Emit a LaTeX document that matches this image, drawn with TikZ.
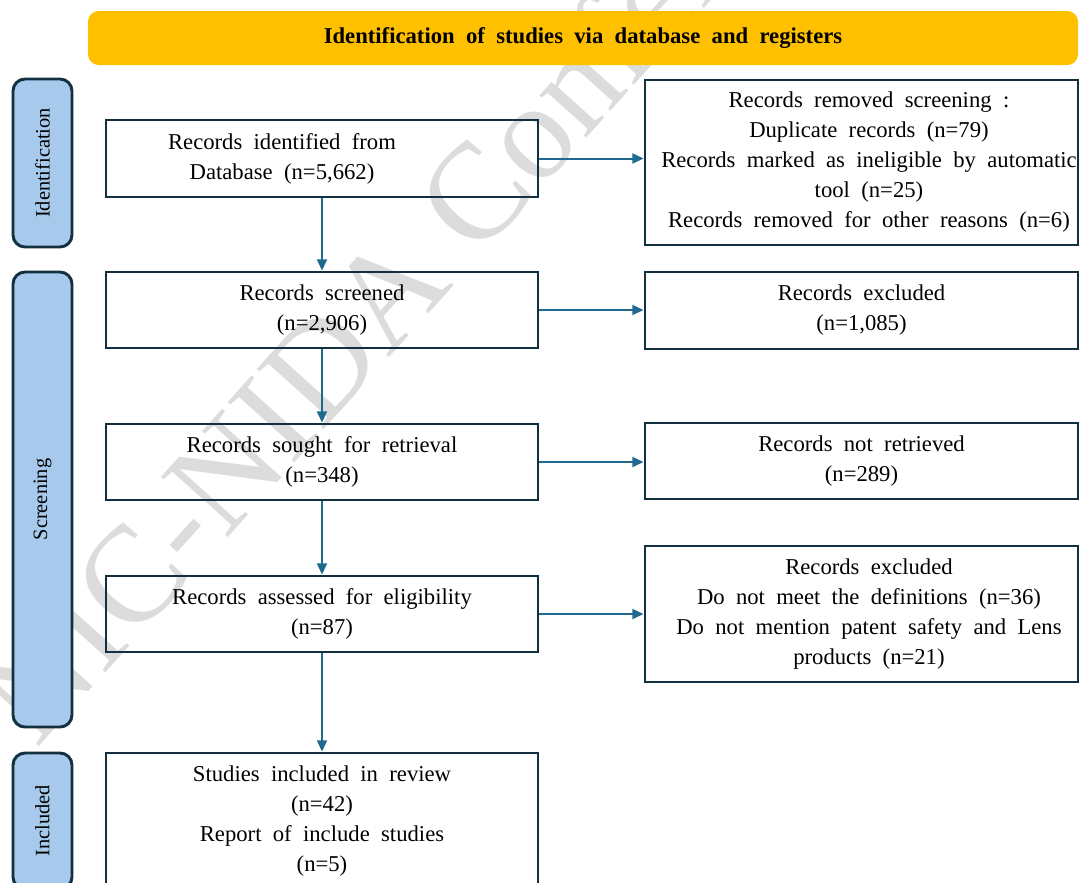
\documentclass[tikz,border=0pt]{standalone}
\usepackage{fontspec}
\setmainfont{Liberation Serif}
\usetikzlibrary{arrows.meta,calc}
\definecolor{titlefill}{HTML}{FFC000}
\definecolor{phasefill}{HTML}{A7CAEC}
\definecolor{boxline}{HTML}{12303F}
\definecolor{arrowblue}{HTML}{1F6A8E}
\definecolor{wmark}{HTML}{DCDCDC}
\newcommand\flowfont{\fontsize{17}{22.5}\selectfont\spaceskip=0.5em\relax}
\newcommand\phasefont{\fontsize{15.3}{18}\selectfont}
\begin{document}
\begin{tikzpicture}[x=0.75pt,y=-0.75pt,
  flowbox/.style={draw=boxline, line width=2.1pt, rectangle, inner sep=0pt},
  leftbox/.style={flowbox, minimum width=324pt, minimum height=57pt},
  rightbox/.style={flowbox, minimum width=324.75pt, minimum height=57pt},
  boxtext/.style={font=\flowfont, align=center, inner sep=0pt},
  phase/.style={draw=boxline, fill=phasefill, line width=2.2pt, rounded corners=9pt,
    inner sep=0pt, minimum height=44.25pt, rotate=90, font=\phasefont},
  flowarrow/.style={draw=arrowblue, line width=1.5pt, -{Triangle[length=8.5pt,width=7.5pt]}},
]
% page and background
\useasboundingbox (0,0) rectangle (1080,882);
\fill[white] (0,0) rectangle (1080,882);

% watermark
\begin{scope}
  \clip (0,0) rectangle (1080,882);
  \node[anchor=base west, rotate=48, font=\fontsize{103}{103}\selectfont,
        text=wmark, inner sep=0pt] (wm) at (36,750) {NIC-NIDA Conference};
\end{scope}

% header bar
\node[fill=titlefill, rounded corners=8pt, minimum width=742.5pt, minimum height=40.5pt,
      inner sep=0pt, font=\flowfont\bfseries] (title) at (583,38)
      {\raisebox{-1.5pt}{Identification of studies via database and registers}};

% phase labels
\node[phase, minimum width=126pt] (phId) at (42.5,163) {Identification};
\node[phase, minimum width=341.25pt] (phSc) at (42.5,499.5) {Screening};
\node[phase, minimum width=102pt] (phIn) at (42.5,821) {Included};

% main column
\node[leftbox, minimum height=57.75pt] (ident) at (322,158.5) {};
\node[boxtext] (identtxt) at ([xshift=-30pt]ident.center) {Records identified from\\Database (n=5,662)};
\node[leftbox] (screened) at (322,310) {};
\node[boxtext] (screenedtxt) at (screened.center) {Records screened\\(n=2,906)};
\node[leftbox] (sought) at (322,462) {};
\node[boxtext] (soughttxt) at (sought.center) {Records sought for retrieval\\(n=348)};
\node[leftbox] (assessed) at (322,614) {};
\node[boxtext] (assessedtxt) at (assessed.center) {Records assessed for eligibility\\(n=87)};
\node[leftbox, minimum height=102pt] (included) at (322,821) {};
\node[boxtext] (includedtxt) at (included.center) {Studies included in review\\(n=42)\\Report of include studies\\(n=5)};

% side column
\node[rightbox, minimum height=123.75pt] (removed) at (861.5,162.5) {};
\node[boxtext] (removedtxt) at ([xshift=5.6pt]removed.center) {Records removed screening :\\Duplicate records (n=79)\\Records marked as ineligible by automatic\\tool (n=25)\\Records removed for other reasons (n=6)};
\node[rightbox, minimum height=57.75pt] (excl1) at (861.5,310.5) {};
\node[boxtext] (excl1txt) at (excl1.center) {Records excluded\\(n=1,085)};
\node[rightbox] (notret) at (861.5,461) {};
\node[boxtext] (notrettxt) at (notret.center) {Records not retrieved\\(n=289)};
\node[rightbox, minimum height=102pt] (excl2) at (861.5,614) {};
\node[boxtext] (excl2txt) at ([xshift=5.6pt]excl2.center) {Records excluded\\Do not meet the definitions (n=36)\\Do not mention patent safety and Lens\\products (n=21)};

% connectors
\draw[flowarrow] (ident.south) -- (screened.north);
\draw[flowarrow] (screened.south) -- (sought.north);
\draw[flowarrow] (sought.south) -- (assessed.north);
\draw[flowarrow] (assessed.south) -- (included.north);
\draw[flowarrow] (ident.east) -- (ident.east -| removed.west);
\draw[flowarrow] (screened.east) -- (screened.east -| excl1.west);
\draw[flowarrow] (sought.east) -- (sought.east -| notret.west);
\draw[flowarrow] (assessed.east) -- (assessed.east -| excl2.west);
\end{tikzpicture}
\end{document}
